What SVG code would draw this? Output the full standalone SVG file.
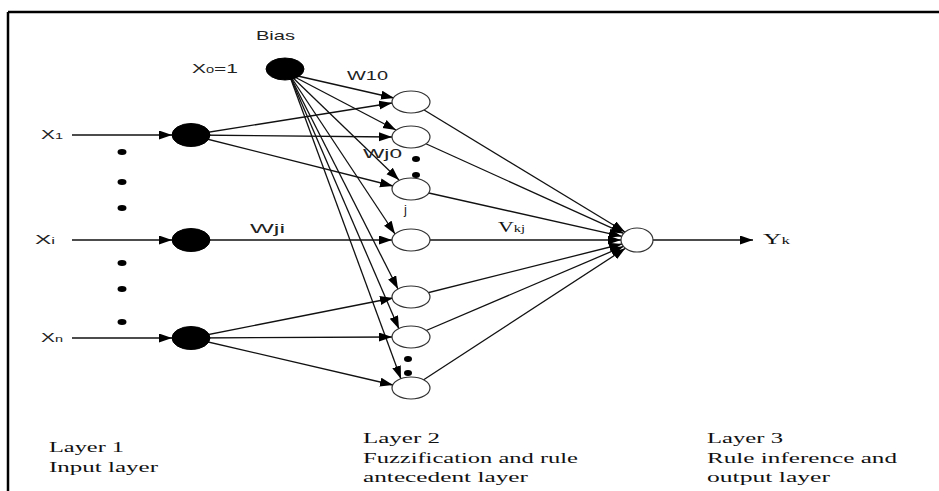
<svg xmlns="http://www.w3.org/2000/svg" width="939" height="491" viewBox="0 0 939 491">
<defs>
<marker id="ah" markerUnits="userSpaceOnUse" markerWidth="14" markerHeight="10" refX="13" refY="4.5" orient="auto">
<path d="M0,0 L13,4.5 L0,9 z" fill="#000"/>
</marker>
<style>
.c{stroke:#111;stroke-width:1.3;fill:none;marker-end:url(#ah)}
.l{stroke:#111;stroke-width:1.3;fill:none}
.fn{fill:#000;stroke:#000}
.on{fill:#fff;stroke:#333;stroke-width:1.2}
.d{fill:#000}
.s{font-family:"Liberation Sans",Arial,sans-serif;font-size:13px;fill:#222}
.r{font-family:"Liberation Serif","Times New Roman",serif;font-size:15px;fill:#111}
</style>
</defs>
<rect width="939" height="491" fill="#fff"/>
<g id="frame">
<line x1="8" y1="12" x2="939" y2="12" stroke="#000" stroke-width="2.5"/>
<line x1="8" y1="12" x2="8" y2="491" stroke="#000" stroke-width="2.5"/>
</g>
<g id="connectors">
<line class="c" x1="72" y1="135" x2="172" y2="135"/>
<line class="c" x1="72" y1="240" x2="172" y2="240"/>
<line class="c" x1="72" y1="338" x2="172" y2="338"/>
<line class="c" x1="289" y1="74" x2="394" y2="98"/>
<line class="c" x1="289" y1="74" x2="396" y2="130"/>
<line class="c" x1="289" y1="74" x2="399" y2="180"/>
<line class="c" x1="289" y1="74" x2="395" y2="234"/>
<line class="c" x1="289" y1="74" x2="398" y2="289"/>
<line class="c" x1="289" y1="74" x2="399" y2="329"/>
<line class="c" x1="289" y1="74" x2="401" y2="379"/>
<line class="c" x1="191" y1="135" x2="392" y2="103"/>
<line class="c" x1="191" y1="135" x2="392" y2="137"/>
<line class="c" x1="191" y1="135" x2="393" y2="186"/>
<line class="c" x1="191" y1="240" x2="392" y2="240"/>
<line class="c" x1="191" y1="338" x2="393" y2="298"/>
<line class="c" x1="191" y1="338" x2="392" y2="337"/>
<line class="c" x1="191" y1="338" x2="393" y2="385"/>
<line class="c" x1="411" y1="102" x2="625" y2="232"/>
<line class="c" x1="411" y1="137" x2="623.7" y2="233.4"/>
<line class="c" x1="411" y1="189" x2="621.8" y2="236.3"/>
<line class="c" x1="411" y1="240" x2="621" y2="240"/>
<line class="c" x1="411" y1="297" x2="622" y2="244"/>
<line class="c" x1="411" y1="337" x2="623.4" y2="246.4"/>
<line class="c" x1="411" y1="388" x2="625.4" y2="248.3"/>
<line class="c" x1="653" y1="240" x2="753" y2="240"/>
</g>
<g id="bias"><ellipse class="fn" cx="285" cy="69" rx="19" ry="11"/></g>
<g id="in1"><ellipse class="fn" cx="191" cy="135" rx="19" ry="11.5"/></g>
<g id="ini"><ellipse class="fn" cx="191" cy="240" rx="19" ry="11.5"/></g>
<g id="inn"><ellipse class="fn" cx="191" cy="338" rx="19" ry="11.5"/></g>
<g id="h1"><ellipse class="on" cx="411" cy="102" rx="19" ry="11"/></g>
<g id="h2"><ellipse class="on" cx="411" cy="137" rx="19" ry="11"/></g>
<g id="h3"><ellipse class="on" cx="411" cy="189" rx="19" ry="11"/></g>
<g id="h4"><ellipse class="on" cx="411" cy="240" rx="19" ry="11"/></g>
<g id="h5"><ellipse class="on" cx="411" cy="297" rx="19" ry="11"/></g>
<g id="h6"><ellipse class="on" cx="411" cy="337" rx="19" ry="11"/></g>
<g id="h7"><ellipse class="on" cx="411" cy="388" rx="19" ry="11"/></g>
<g id="out"><ellipse class="on" cx="637" cy="240" rx="16" ry="12"/></g>
<g id="dots">
<ellipse class="d" cx="122" cy="152" rx="4.5" ry="3"/>
<ellipse class="d" cx="122" cy="182" rx="4.5" ry="3"/>
<ellipse class="d" cx="122" cy="208" rx="4.5" ry="3"/>
<ellipse class="d" cx="122" cy="263" rx="4.5" ry="3"/>
<ellipse class="d" cx="122" cy="289" rx="4.5" ry="3"/>
<ellipse class="d" cx="122" cy="322" rx="4.5" ry="3"/>
<ellipse class="d" cx="416" cy="159" rx="4" ry="3"/>
<ellipse class="d" cx="416" cy="175" rx="4" ry="3"/>
<ellipse class="d" cx="408" cy="359" rx="4" ry="3"/>
<ellipse class="d" cx="408" cy="373" rx="4" ry="3"/>
</g>
<g id="labels">
<text class="s" x="41" y="139" textLength="22" lengthAdjust="spacingAndGlyphs">X<tspan font-size="9">1</tspan></text>
<text class="s" x="35" y="244" textLength="20" lengthAdjust="spacingAndGlyphs">X<tspan font-size="9">i</tspan></text>
<text class="s" x="41" y="342" textLength="22" lengthAdjust="spacingAndGlyphs">X<tspan font-size="9">n</tspan></text>
<text class="s" x="256" y="40" textLength="39" lengthAdjust="spacingAndGlyphs">Bias</text>
<text class="s" x="192" y="73" textLength="46" lengthAdjust="spacingAndGlyphs">X<tspan font-size="9">0</tspan>=1</text>
<text class="s" x="347" y="80" textLength="41" lengthAdjust="spacingAndGlyphs">W10</text>
<text class="s" x="363" y="158" textLength="39" lengthAdjust="spacingAndGlyphs">Wj0</text>
<text class="s" x="404" y="214">j</text>
<text class="s" x="250" y="233" textLength="35" lengthAdjust="spacingAndGlyphs">Wji</text>
<text class="r" x="498" y="232" textLength="27" lengthAdjust="spacingAndGlyphs">V<tspan font-size="10">kj</tspan></text>
<text class="r" x="763" y="244" textLength="27" lengthAdjust="spacingAndGlyphs">Y<tspan font-size="10">k</tspan></text>
<text class="r" x="49" y="452" textLength="75" lengthAdjust="spacingAndGlyphs">Layer 1</text>
<text class="r" x="49" y="472" textLength="109" lengthAdjust="spacingAndGlyphs">Input layer</text>
<text class="r" x="363" y="443" textLength="77" lengthAdjust="spacingAndGlyphs">Layer 2</text>
<text class="r" x="363" y="463" textLength="215" lengthAdjust="spacingAndGlyphs">Fuzzification and rule</text>
<text class="r" x="363" y="482" textLength="165" lengthAdjust="spacingAndGlyphs">antecedent layer</text>
<text class="r" x="707" y="443" textLength="76" lengthAdjust="spacingAndGlyphs">Layer 3</text>
<text class="r" x="707" y="463" textLength="190" lengthAdjust="spacingAndGlyphs">Rule inference and</text>
<text class="r" x="707" y="482" textLength="123" lengthAdjust="spacingAndGlyphs">output layer</text>
</g>
</svg>
